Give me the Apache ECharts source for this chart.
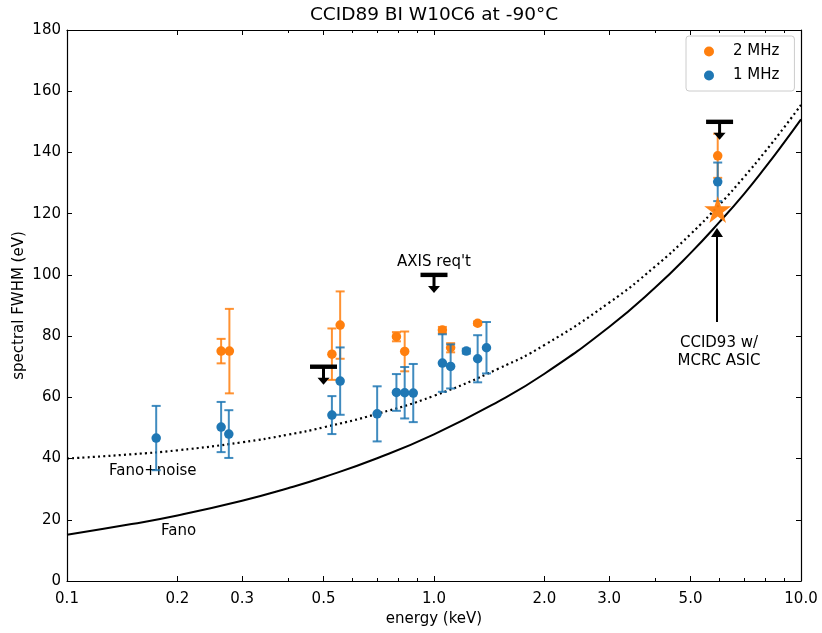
<!DOCTYPE html>
<html>
<head>
<meta charset="utf-8">
<script src="https://cdn.jsdelivr.net/npm/echarts@6/dist/echarts.min.js"></script>
<style>
  html, body { margin: 0; padding: 0; background: #fff; }
  #chart { width: 822px; height: 633px; }
</style>
</head>
<body>
<div id="chart"></div>
<script>
// axis ticks
const energyTicks = [0.1, 0.2, 0.3, 0.5, 1.0, 2.0, 3.0, 5.0, 10.0]
const energyMinorTicks = [0.4, 0.6, 0.7, 0.8, 0.9, 4, 6, 7, 8, 9]

// 1 MHz readout
const blueEnergy = [0.175, 0.263, 0.276, 0.527, 0.555, 0.70, 0.79, 0.832, 0.878, 1.054, 1.11, 1.225, 1.315, 1.39, 5.93]
const blueFwhm = [46.7, 50.3, 48.0, 54.2, 65.3, 54.6, 61.6, 61.5, 61.4, 71.2, 70.1, 75.1, 72.6, 76.2, 130.4]
const blueErr = [10.5, 8.2, 7.8, 6.2, 11.0, 9.0, 6.0, 8.4, 9.5, 9.4, 7.2, 0.8, 7.7, 8.4, 6.3]

// 2 MHz readout
const orangeEnergy = [0.263, 0.277, 0.527, 0.555, 0.79, 0.832, 1.054, 1.11, 1.315, 5.93]
const orangeFwhm = [75.1, 75.1, 74.1, 83.6, 79.8, 75.0, 82.0, 76.2, 84.2, 138.9]
const orangeErr = [4.0, 13.8, 8.4, 11.0, 1.5, 6.5, 1.0, 1.5, 0.6, 7.2]

// CCID93 w/ MCRC ASIC
const starEnergy = [5.93]
const starFwhm = [121.4]

// requirement upper limits
const limitEnergy = [0.5, 1.0, 6.0]
const limitFwhm = [70, 100, 150]

// model curves
const curveEnergy = [0.1, 0.15, 0.2, 0.3, 0.4, 0.5, 0.7, 1, 1.5, 2, 3, 4, 5, 6, 7, 8, 9, 10]
const fanoFwhm = [15.1, 18.6, 21.4, 26.2, 30.3, 33.9, 40.1, 47.9, 58.7, 67.7, 83.0, 95.8, 107.1, 117.3, 126.5, 135.2, 143.3, 150.8]
const fanoNoiseFwhm = [40.0, 41.4, 42.7, 45.3, 47.8, 50.2, 54.6, 60.5, 69.4, 77.1, 90.9, 102.7, 113.3, 123.0, 132.0, 140.4, 148.2, 155.5]

const BLUE = '#1f77b4'
const ORANGE = '#ff7f0e'
const FONT = 'DejaVu Sans'

const pairs = (xs, ys) => xs.map((x, i) => [x, ys[i]])
const errRows = (xs, ys, es) => xs.map((x, i) => [x, ys[i] - es[i], ys[i] + es[i]])

function renderErrorBar(color) {
  return function(params, api) {
    const lo = api.coord([api.value(0), api.value(1)])
    const hi = api.coord([api.value(0), api.value(2)])
    const cap = 4.5
    const style = { stroke: color, lineWidth: 2, opacity: 0.85 }
    return {
      type: 'group',
      children: [
        { type: 'line', shape: { x1: lo[0], y1: lo[1], x2: hi[0], y2: hi[1] }, style },
        { type: 'line', shape: { x1: lo[0] - cap, y1: lo[1], x2: lo[0] + cap, y2: lo[1] }, style },
        { type: 'line', shape: { x1: hi[0] - cap, y1: hi[1], x2: hi[0] + cap, y2: hi[1] }, style }
      ]
    }
  }
}

function renderLimit(params, api) {
  const p = api.coord([api.value(0), api.value(1)])
  return {
    type: 'group',
    children: [
      { type: 'rect', shape: { x: p[0] - 13.5, y: p[1] - 2.2, width: 27, height: 4.4 }, style: { fill: '#000' } },
      { type: 'line', shape: { x1: p[0], y1: p[1], x2: p[0], y2: p[1] + 12 }, style: { stroke: '#000', lineWidth: 3 } },
      { type: 'polygon', shape: { points: [[p[0] - 6, p[1] + 11], [p[0] + 6, p[1] + 11], [p[0], p[1] + 18]] }, style: { fill: '#000' } }
    ]
  }
}

const xBase = {
  type: 'log',
  logBase: 10,
  min: 0.1,
  max: 10,
  gridIndex: 0,
  splitLine: { show: false },
  axisLine: { lineStyle: { color: '#000', width: 1.2 } }
}

const chart = echarts.init(document.getElementById('chart'))
chart.setOption({
  animation: false,
  backgroundColor: '#fff',
  grid: { left: 67, right: 21, top: 30, bottom: 52 },
  xAxis: [
    Object.assign({}, xBase, {
      position: 'bottom',
      name: 'energy (keV)',
      nameLocation: 'middle',
      nameGap: 30,
      nameTextStyle: { color: '#000', fontFamily: FONT, fontSize: 15 },
      axisTick: { inside: true, length: 5, customValues: energyTicks, lineStyle: { color: '#000', width: 1 } },
      axisLabel: {
        customValues: energyTicks,
        formatter: v => Number(v).toFixed(1),
        color: '#000', fontFamily: FONT, fontSize: 15, margin: 11
      }
    }),
    Object.assign({}, xBase, {
      position: 'bottom',
      axisLine: { show: false },
      axisTick: { inside: true, length: 3, customValues: energyMinorTicks, lineStyle: { color: '#000', width: 1 } },
      axisLabel: { show: false }
    }),
    Object.assign({}, xBase, {
      position: 'top',
      axisTick: { inside: true, length: 5, customValues: energyTicks, lineStyle: { color: '#000', width: 1 } },
      axisLabel: { show: false }
    }),
    Object.assign({}, xBase, {
      position: 'top',
      axisLine: { show: false },
      axisTick: { inside: true, length: 3, customValues: energyMinorTicks, lineStyle: { color: '#000', width: 1 } },
      axisLabel: { show: false }
    })
  ],
  yAxis: [
    {
      type: 'value', min: 0, max: 180, interval: 20,
      position: 'left',
      name: 'spectral FWHM (eV)',
      nameLocation: 'middle',
      nameGap: 40,
      nameMoveOverlap: false,
      nameTextStyle: { color: '#000', fontFamily: FONT, fontSize: 15 },
      splitLine: { show: false },
      axisLine: { show: true, lineStyle: { color: '#000', width: 1.2 } },
      axisTick: { show: true, inside: true, length: 5, lineStyle: { color: '#000', width: 1 } },
      axisLabel: { color: '#000', fontFamily: FONT, fontSize: 15, margin: 6 }
    },
    {
      type: 'value', min: 0, max: 180, interval: 20,
      position: 'right',
      splitLine: { show: false },
      axisLine: { show: true, lineStyle: { color: '#000', width: 1.2 } },
      axisTick: { show: true, inside: true, length: 5, lineStyle: { color: '#000', width: 1 } },
      axisLabel: { show: false }
    }
  ],
  legend: {
    data: ['2 MHz', '1 MHz'],
    orient: 'vertical',
    left: 686,
    top: 36,
    padding: [7, 15, 7, 18],
    itemGap: 7,
    itemWidth: 38,
    itemHeight: 10,
    icon: 'circle',
    borderColor: '#cccccc',
    borderWidth: 1,
    borderRadius: 3,
    textStyle: { color: '#000', fontFamily: FONT, fontSize: 15, lineHeight: 17 }
  },
  graphic: [
    { type: 'text', x: 434, y: 15, style: { text: 'CCID89 BI W10C6 at -90°C', font: '18.5px "DejaVu Sans"', fill: '#000', align: 'center', verticalAlign: 'middle' } },
    { type: 'text', x: 434, y: 262, style: { text: "AXIS req't", font: '15px "DejaVu Sans"', fill: '#000', align: 'center', verticalAlign: 'middle' } },
    { type: 'text', x: 109, y: 471, style: { text: 'Fano+noise', font: '15px "DejaVu Sans"', fill: '#000', align: 'left', verticalAlign: 'middle' } },
    { type: 'text', x: 161, y: 531, style: { text: 'Fano', font: '15px "DejaVu Sans"', fill: '#000', align: 'left', verticalAlign: 'middle' } },
    { type: 'text', x: 719, y: 352, style: { text: 'CCID93 w/\nMCRC ASIC', font: '15px "DejaVu Sans"', fill: '#000', align: 'center', verticalAlign: 'middle', lineHeight: 18 } },
    { type: 'line', shape: { x1: 717, y1: 322, x2: 717, y2: 236 }, style: { stroke: '#000', lineWidth: 2 } },
    { type: 'polygon', shape: { points: [[711, 237], [723, 237], [717, 228]] }, style: { fill: '#000' } }
  ],
  series: [
    {
      name: 'Fano',
      type: 'line',
      data: pairs(curveEnergy, fanoFwhm),
      smooth: true,
      showSymbol: false,
      symbol: 'none',
      lineStyle: { color: '#000', width: 2 },
      z: 2
    },
    {
      name: 'Fano+noise',
      type: 'line',
      data: pairs(curveEnergy, fanoNoiseFwhm),
      smooth: true,
      showSymbol: false,
      symbol: 'none',
      lineStyle: { color: '#000', width: 2.2, type: [2, 3.2] },
      z: 2
    },
    {
      name: '2 MHz err',
      type: 'custom',
      data: errRows(orangeEnergy, orangeFwhm, orangeErr),
      renderItem: renderErrorBar(ORANGE),
      z: 3
    },
    {
      name: '2 MHz',
      type: 'scatter',
      data: pairs(orangeEnergy, orangeFwhm),
      symbol: 'circle',
      symbolSize: 9.5,
      itemStyle: { color: ORANGE, opacity: 1 },
      z: 4
    },
    {
      name: '1 MHz err',
      type: 'custom',
      data: errRows(blueEnergy, blueFwhm, blueErr),
      renderItem: renderErrorBar(BLUE),
      z: 5
    },
    {
      name: '1 MHz',
      type: 'scatter',
      data: pairs(blueEnergy, blueFwhm),
      symbol: 'circle',
      symbolSize: 9.5,
      itemStyle: { color: BLUE, opacity: 1 },
      z: 6
    },
    {
      name: 'CCID93',
      type: 'scatter',
      data: pairs(starEnergy, starFwhm),
      symbol: 'path://M50,0 L61.2,34.5 L97.6,34.5 L68.2,55.9 L79.4,90.5 L50,69.1 L20.6,90.5 L31.8,55.9 L2.4,34.5 L38.8,34.5 Z',
      symbolSize: 27,
      itemStyle: { color: ORANGE, opacity: 0.95 },
      z: 7
    },
    {
      name: 'requirement',
      type: 'custom',
      data: pairs(limitEnergy, limitFwhm),
      renderItem: renderLimit,
      z: 8
    }
  ]
})
</script>
</body>
</html>
